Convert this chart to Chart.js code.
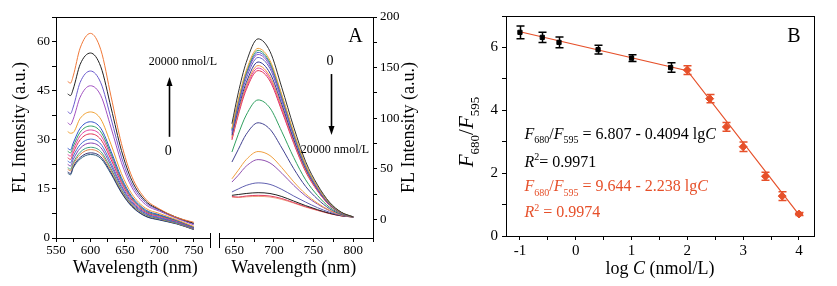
<!DOCTYPE html>
<html>
<head>
<meta charset="utf-8">
<script src="https://cdn.jsdelivr.net/npm/chart.js@4.4.0/dist/chart.umd.min.js"></script>
<style>
  body { margin: 0; background: #fff; }
  #wrap { position: relative; width: 837px; height: 286px; }
  canvas { position: absolute; top: 0; }
  #chartA { left: 0; }
  #chartB { left: 420px; }
</style>
</head>
<body>
<div id="wrap">
  <canvas id="chartA" width="420" height="286"></canvas>
  <canvas id="chartB" width="417" height="286"></canvas>
</div>
<script>
const serif = '"Liberation Serif", "Times New Roman", Times, serif';
Chart.defaults.font.family = serif;
Chart.defaults.color = '#000';

// ---- panel A, left part: emission around 600 nm (rises with concentration)
const leftWavelength = [567, 571, 575, 585, 600, 615, 630, 645, 660, 680, 700, 725, 750];
const leftSpectra = [
  [47.8, 47.3, 49.5, 58.0, 62.5, 57.5, 43.1, 28.8, 18.8, 11.9, 8.9, 6.3, 4.8],
  [44.0, 43.5, 45.5, 53.0, 56.5, 52.3, 39.7, 26.7, 17.6, 11.3, 8.7, 6.3, 4.5],
  [38.6, 38.0, 40.0, 47.5, 51.0, 47.4, 36.4, 24.7, 16.5, 10.8, 8.5, 6.2, 4.3],
  [35.2, 34.6, 36.3, 43.0, 46.5, 43.5, 33.6, 23.0, 15.5, 10.2, 8.2, 6.0, 4.0],
  [32.5, 32.0, 32.2, 36.5, 38.5, 36.3, 28.5, 19.7, 13.5, 9.1, 7.5, 5.6, 3.5],
  [27.4, 26.9, 29.0, 33.5, 35.5, 33.5, 26.4, 18.4, 12.7, 8.6, 7.1, 5.4, 3.3],
  [26.5, 26.0, 28.0, 32.3, 34.2, 32.4, 25.6, 17.8, 12.3, 8.3, 6.9, 5.3, 3.2],
  [25.5, 25.0, 27.0, 31.2, 33.0, 31.3, 24.8, 17.3, 12.0, 8.1, 6.8, 5.2, 3.2],
  [24.5, 24.0, 26.0, 30.0, 31.8, 30.1, 23.9, 16.8, 11.6, 7.9, 6.6, 5.1, 3.1],
  [23.5, 23.0, 25.0, 28.5, 30.2, 28.7, 22.8, 16.0, 11.1, 7.6, 6.3, 4.9, 3.0],
  [22.5, 22.0, 24.0, 27.4, 29.0, 27.6, 22.0, 15.5, 10.7, 7.4, 6.1, 4.8, 2.9],
  [21.5, 21.0, 23.0, 26.2, 27.7, 26.4, 21.1, 14.8, 10.3, 7.1, 5.9, 4.6, 2.8],
  [21.0, 20.5, 22.5, 25.5, 27.0, 25.7, 20.6, 14.5, 10.1, 7.0, 5.8, 4.5, 2.7],
  [20.2, 19.7, 21.8, 24.6, 26.0, 24.8, 19.9, 14.0, 9.8, 6.7, 5.6, 4.4, 2.6],
  [19.8, 19.3, 21.4, 24.1, 25.5, 24.3, 19.5, 13.8, 9.6, 6.6, 5.5, 4.3, 2.6]
];
const leftColors = ['#F07838', '#202020', '#6A5ACD', '#A050C0', '#F0A030', '#3050C8', '#30A060', '#E040A0',
  '#E03050', '#4070D0', '#8040B0', '#40A080', '#E08040', '#303070', '#306080'];

// ---- panel A, right part: emission around 680 nm (falls with concentration)
const rightWavelength = [647, 655, 665, 680, 695, 710, 725, 740, 755, 770, 785, 800];
const rightSpectra = [
  [94.5, 125, 155, 178.4, 166, 130, 91, 57, 34, 17, 7.0, 2.3],
  [90, 118, 147, 169, 157, 123, 86, 54, 32, 16, 6.8, 2.3],
  [89, 117, 145, 167, 155, 122, 85, 53, 32, 16, 6.7, 2.3],
  [88, 115, 143.5, 165, 153.5, 120, 84, 53, 31, 15.7, 6.6, 2.3],
  [87, 114, 142, 163, 151.5, 119, 83, 52, 31, 15.5, 6.5, 2.3],
  [85, 112, 139, 160, 149, 117, 82, 51, 30, 15.2, 6.4, 2.3],
  [83, 109, 135, 155.5, 144.5, 113.5, 79, 50, 29.5, 14.8, 6.2, 2.3],
  [81, 106, 132, 152, 141, 111, 77.5, 48.6, 29, 14.5, 6.1, 2.3],
  [80, 104.6, 130, 149.5, 139, 109, 76, 48, 28.4, 14.2, 6.0, 2.3],
  [78.5, 103, 128, 147, 136.7, 107, 75, 47, 28, 14, 5.9, 2.3],
  [66.5, 84, 103, 118, 110, 86.5, 61, 39, 23.5, 12, 5.3, 2.3],
  [56.6, 69, 84, 95.4, 89, 70.5, 50, 32.5, 20, 10.5, 4.8, 2.3],
  [40, 48.5, 59, 67, 63, 51, 37, 25, 16, 9, 4.3, 2.3],
  [36.8, 43.5, 52.5, 59, 55.7, 45.5, 33.5, 23, 15, 8.5, 4.1, 2.3],
  [27, 30, 33.5, 36, 34.5, 29.5, 23, 17, 11.5, 7, 3.8, 2.3],
  [23.7, 24.5, 25.5, 26.3, 25.5, 22.5, 18, 13.5, 9.5, 6, 3.5, 2.3],
  [22.5, 22, 23, 23.7, 23, 20.5, 16.5, 12.5, 9, 5.8, 3.4, 2.3],
  [22, 21.5, 22.2, 22.6, 22, 19.6, 16, 12, 8.7, 5.6, 3.3, 2.3]
];
const rightColors = ['#303030', '#F0A040', '#40A060', '#4060D0', '#9050C0', '#6060C0', '#303090', '#F09040',
  '#E040A0', '#E03050', '#30A060', '#404090', '#F0A040', '#9050B0', '#6060B0', '#202020', '#E04060', '#F0A080'];

// ---- panel B: ratio vs log C
const logCBlack = [-1, -0.6, -0.3, 0.4, 1, 1.7];
const ratioBlack = [6.48, 6.32, 6.16, 5.93, 5.66, 5.36];
const errBlack = [0.2, 0.16, 0.17, 0.14, 0.11, 0.15];
const logCRed = [2, 2.4, 2.7, 3, 3.4, 3.7, 4];
const ratioRed = [5.28, 4.37, 3.47, 2.84, 1.9, 1.27, 0.7];
const errRed = [0.14, 0.13, 0.14, 0.15, 0.13, 0.14, 0.05];
const fitLogC = [-1, 2, 4];
const fitRatio = [6.5, 5.26, 0.68];

const RED = '#E6502A';
const toXY = (xs, ys) => xs.map((x, i) => ({ x, y: ys[i] }));

const outerGrid = { drawOnChartArea: false, tickLength: 4, color: '#000', lineWidth: 1 };
const blackBorder = { color: '#000', width: 1 };
const ticksOf = (size, step, show, pad) => ({
  stepSize: step, autoSkip: false, maxRotation: 0, includeBounds: false,
  color: '#000', padding: pad, font: { family: serif, size }, callback: v => (show(v) ? String(v) : '')
});
const titleOf = (text, pad) => ({
  display: true, text, color: '#000', font: { family: serif, size: 18, weight: 'normal' }, padding: pad
});
const hiddenAxis = (position, fit) => ({
  type: 'linear', position, min: 0, max: 1,
  ticks: { display: false }, grid: { display: false }, border: blackBorder, afterFit: fit
});

function richText(ctx, parts, x, y, size, color, measureOnly) {
  ctx.fillStyle = color;
  ctx.textBaseline = 'alphabetic';
  ctx.textAlign = 'left';
  let cx = x;
  parts.forEach(p => {
    const fs = p.sub || p.sup ? Math.round(size * 0.62) : size;
    ctx.font = (p.it ? 'italic ' : '') + fs + 'px ' + serif;
    const dy = p.sub ? size * 0.28 : p.sup ? -size * 0.42 : 0;
    if (!measureOnly) ctx.fillText(p.t, cx, y + dy);
    cx += ctx.measureText(p.t).width;
  });
  return cx - x;
}

function arrow(ctx, x, y0, y1) {
  const dir = Math.sign(y1 - y0);
  ctx.lineWidth = 1.6;
  ctx.beginPath(); ctx.moveTo(x, y0); ctx.lineTo(x, y1 - dir * 6); ctx.stroke();
  ctx.beginPath(); ctx.moveTo(x, y1); ctx.lineTo(x - 3, y1 - dir * 9); ctx.lineTo(x + 3, y1 - dir * 9);
  ctx.closePath(); ctx.fill();
}

const annotA = {
  id: 'annotA',
  afterDraw(chart) {
    const { ctx, chartArea: ca } = chart;
    const { xL, xR, yL, yR } = chart.scales;
    ctx.save();
    // broken wavelength axis
    const jx = Math.round(xL.right);
    ctx.fillStyle = '#fff';
    ctx.fillRect(jx - 4, ca.bottom - 2, 8, 8);
    ctx.strokeStyle = '#000';
    ctx.lineWidth = 1;
    [jx - 4.5, jx + 4.5].forEach(x => {
      ctx.beginPath(); ctx.moveTo(x, ca.bottom - 5); ctx.lineTo(x, ca.bottom + 10); ctx.stroke();
    });

    ctx.fillStyle = '#000';
    ctx.textAlign = 'center';
    ctx.textBaseline = 'alphabetic';
    ctx.font = '12px ' + serif;
    ctx.fillText('20000 nmol/L', xL.getPixelForValue(734), yL.getPixelForValue(52.8));
    ctx.font = '14px ' + serif;
    ctx.fillText('0', xL.getPixelForValue(713), yL.getPixelForValue(25.4));
    arrow(ctx, Math.round(xL.getPixelForValue(713.3)) + 0.5, yL.getPixelForValue(30.9), yL.getPixelForValue(49.2));

    ctx.font = '14px ' + serif;
    ctx.fillText('0', xR.getPixelForValue(770.7), yR.getPixelForValue(152.5));
    arrow(ctx, Math.round(xR.getPixelForValue(771.6)) + 0.5, yR.getPixelForValue(143.6), yR.getPixelForValue(83.3));
    ctx.font = '12px ' + serif;
    ctx.fillText('20000 nmol/L', xR.getPixelForValue(777), yR.getPixelForValue(65.5));

    ctx.font = '20px ' + serif;
    ctx.fillText('A', xR.getPixelForValue(803), yR.getPixelForValue(175.3));

    // right-hand axis title, reading bottom to top
    ctx.translate(yR.right - 11, (ca.top + ca.bottom) / 2);
    ctx.rotate(-Math.PI / 2);
    ctx.textBaseline = 'middle';
    ctx.font = '18px ' + serif;
    ctx.fillText('FL Intensity (a.u.)', 0, 0);
    ctx.restore();
  }
};

const leftSets = leftSpectra.map((ys, i) => ({
  data: toXY(leftWavelength, ys), borderColor: leftColors[i], xAxisID: 'xL', yAxisID: 'yL',
  borderWidth: 1, pointRadius: 0, cubicInterpolationMode: 'monotone', fill: false
}));
const rightSets = rightSpectra.map((ys, i) => ({
  data: toXY(rightWavelength, ys), borderColor: rightColors[i], xAxisID: 'xR', yAxisID: 'yR',
  borderWidth: 1, pointRadius: 0, cubicInterpolationMode: 'monotone', fill: false
}));

new Chart(document.getElementById('chartA'), {
  type: 'line',
  data: { datasets: leftSets.concat(rightSets) },
  options: {
    responsive: false, animation: false, devicePixelRatio: 1,
    layout: { padding: 0 },
    plugins: { legend: { display: false }, tooltip: { enabled: false } },
    scales: {
      xL: {
        type: 'linear', position: 'bottom', stack: 'wl', stackWeight: 1, min: 550, max: 780,
        ticks: ticksOf(13, 25, v => v % 50 === 0 && v <= 750, 1),
        grid: outerGrid, border: blackBorder,
        title: titleOf('Wavelength (nm)', { top: 0, bottom: 7 }),
        afterFit: s => { s.height = 48; }
      },
      xR: {
        type: 'linear', position: 'bottom', stack: 'wl', stackWeight: 1, min: 625, max: 825,
        ticks: ticksOf(13, 25, v => v % 50 === 0 && v >= 650 && v <= 800, 1),
        grid: outerGrid, border: blackBorder,
        title: titleOf('Wavelength (nm)', { top: 0, bottom: 7 }),
        afterFit: s => { s.height = 48; }
      },
      xTop: hiddenAxis('top', s => { s.height = 17; }),
      yL: {
        type: 'linear', position: 'left', min: 0, max: 67.5,
        ticks: ticksOf(13, 7.5, v => v % 15 === 0, 2),
        grid: outerGrid, border: blackBorder,
        title: titleOf('FL Intensity (a.u.)', { top: 9, bottom: 0 }),
        afterFit: s => { s.width = 56; }
      },
      yR: {
        type: 'linear', position: 'right', min: -18.5, max: 200,
        ticks: ticksOf(13, 25, v => v % 50 === 0, 3),
        grid: outerGrid, border: blackBorder,
        afterFit: s => { s.width = 47; }
      }
    }
  },
  plugins: [annotA]
});

// ---- panel B
const eqBlack = [{ t: 'F', it: 1 }, { t: '680', sub: 1 }, { t: '/' }, { t: 'F', it: 1 }, { t: '595', sub: 1 },
  { t: ' = 6.807 - 0.4094 lg' }, { t: 'C', it: 1 }];
const r2Black = [{ t: 'R', it: 1 }, { t: '2', sup: 1 }, { t: '= 0.9971' }];
const eqRed = [{ t: 'F', it: 1 }, { t: '680', sub: 1 }, { t: '/' }, { t: 'F', it: 1 }, { t: '595', sub: 1 },
  { t: ' = 9.644 - 2.238 lg' }, { t: 'C', it: 1 }];
const r2Red = [{ t: 'R', it: 1 }, { t: '2', sup: 1 }, { t: ' = 0.9974' }];
const yTitleB = [{ t: 'F', it: 1 }, { t: '680', sub: 1 }, { t: '/' }, { t: 'F', it: 1 }, { t: '595', sub: 1 }];
const xTitleB = [{ t: 'log ' }, { t: 'C', it: 1 }, { t: ' (nmol/L)' }];

const annotB = {
  id: 'annotB',
  afterDatasetsDraw(chart) {
    const { ctx } = chart;
    const { x: xs, y: ys } = chart.scales;
    ctx.save();
    chart.data.datasets.forEach(ds => {
      if (!ds.errors) return;
      ctx.strokeStyle = ds.borderColor;
      ctx.lineWidth = 1.5;
      ds.data.forEach((p, i) => {
        const px = Math.round(xs.getPixelForValue(p.x)) + 0.5;
        const top = ys.getPixelForValue(p.y + ds.errors[i]);
        const bot = ys.getPixelForValue(p.y - ds.errors[i]);
        ctx.beginPath();
        ctx.moveTo(px, top); ctx.lineTo(px, bot);
        ctx.moveTo(px - 4, top); ctx.lineTo(px + 4, top);
        ctx.moveTo(px - 4, bot); ctx.lineTo(px + 4, bot);
        ctx.stroke();
      });
    });
    ctx.restore();
  },
  afterDraw(chart) {
    const { ctx, chartArea: ca } = chart;
    const { x: xs, y: ys } = chart.scales;
    ctx.save();
    const tx = xs.getPixelForValue(-0.92);
    richText(ctx, eqBlack, tx, ys.getPixelForValue(3.1), 16, '#000');
    richText(ctx, r2Black, tx, ys.getPixelForValue(2.21), 16, '#000');
    richText(ctx, eqRed, tx, ys.getPixelForValue(1.42), 16, RED);
    richText(ctx, r2Red, tx, ys.getPixelForValue(0.59), 16, RED);

    ctx.fillStyle = '#000';
    ctx.font = '20px ' + serif;
    ctx.textAlign = 'center';
    ctx.fillText('B', ca.right - 20, ca.top + 26);

    const w = richText(ctx, xTitleB, 0, 0, 18, '#000', true);
    richText(ctx, xTitleB, (ca.left + ca.right) / 2 - w / 2, 274, 18, '#000');

    const h = richText(ctx, yTitleB, 0, 0, 21, '#000', true);
    ctx.translate(53, (ca.top + ca.bottom) / 2 + h / 2 + 6);
    ctx.rotate(-Math.PI / 2);
    richText(ctx, yTitleB, 0, 0, 21, '#000');
    ctx.restore();
  }
};

new Chart(document.getElementById('chartB'), {
  type: 'scatter',
  data: {
    datasets: [
      { data: toXY(logCBlack, ratioBlack), errors: errBlack, borderColor: '#000', backgroundColor: '#000',
        pointStyle: 'rect', pointRadius: 3, borderWidth: 1 },
      { data: toXY(logCRed, ratioRed), errors: errRed, borderColor: RED, backgroundColor: RED,
        pointStyle: 'rectRot', pointRadius: 4, borderWidth: 1 },
      { data: toXY(fitLogC, fitRatio), showLine: true, borderColor: RED, borderWidth: 1.2,
        pointRadius: 0, fill: false }
    ]
  },
  options: {
    responsive: false, animation: false, devicePixelRatio: 1,
    layout: { padding: 0 },
    plugins: { legend: { display: false }, tooltip: { enabled: false } },
    scales: {
      x: {
        type: 'linear', position: 'bottom', min: -1.25, max: 4.27,
        ticks: ticksOf(15, 0.5, v => Number.isInteger(v), 2),
        grid: outerGrid, border: blackBorder,
        afterFit: s => { s.height = 50; }
      },
      xTop: hiddenAxis('top', s => { s.height = 16; }),
      y: {
        type: 'linear', position: 'left', min: 0, max: 7,
        ticks: ticksOf(15, 1, v => v % 2 === 0 && v < 7, 4),
        grid: outerGrid, border: blackBorder,
        afterFit: s => { s.width = 86; }
      },
      yRight: hiddenAxis('right', s => { s.width = 23; })
    }
  },
  plugins: [annotB]
});
</script>
</body>
</html>
